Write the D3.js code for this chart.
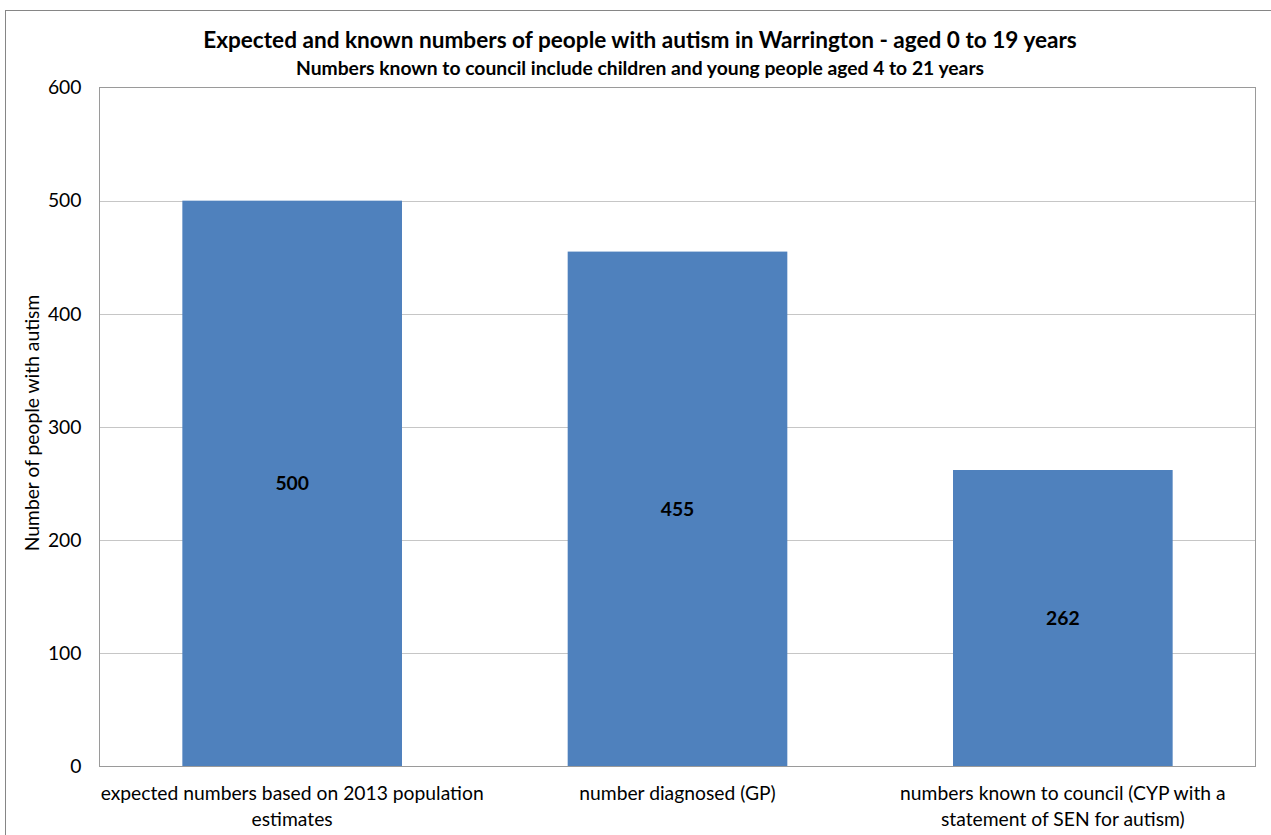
<!DOCTYPE html>
<html>
<head>
<meta charset="utf-8">
<script src="https://cdn.jsdelivr.net/npm/d3@7"></script>
<style>
  html, body { margin: 0; padding: 0; background: #fff; }
  svg { display: block; font-family: Lato, "Open Sans", sans-serif; }
</style>
</head>
<body>
<svg id="chart" width="1271" height="835"></svg>
<script>
// Autism counts in Warrington, ages 0 to 19
const categories = [
  ["expected numbers based on 2013 population", "estimates"],
  ["number diagnosed (GP)"],
  ["numbers known to council (CYP with a", "statement of SEN for autism)"]
];
const values = [500, 455, 262];
const yTicks = [0, 100, 200, 300, 400, 500, 600];

const titleText = "Expected and known numbers of people with autism in Warrington - aged 0 to 19 years";
const subtitleText = "Numbers known to council include children and young people aged 4 to 21 years";
const yAxisTitle = "Number of people with autism";

const svg = d3.select("#chart");
const W = 1271, H = 835;
const plot = { left: 99.5, top: 87.5, right: 1255.5, bottom: 766.5 };
const FS = 19.3;

// outer chart frame
svg.append("rect")
  .attr("x", 5.5).attr("y", 10.5)
  .attr("width", W + 10).attr("height", H + 10)
  .attr("fill", "#fff").attr("stroke", "#868686").attr("stroke-width", 1);

const x = d3.scaleBand()
  .domain(d3.range(values.length))
  .range([plot.left, plot.right])
  .paddingInner(0.43).paddingOuter(0.215);

const y = d3.scaleLinear()
  .domain([0, 600])
  .range([plot.bottom, plot.top]);

// gridlines
svg.append("g").selectAll("line")
  .data(yTicks.filter(t => t > 0 && t < 600))
  .join("line")
  .attr("x1", plot.left).attr("x2", plot.right)
  .attr("y1", d => Math.round(y(d)) + 0.5).attr("y2", d => Math.round(y(d)) + 0.5)
  .attr("stroke", "#c6c6c6").attr("stroke-width", 1);

// bars
svg.append("g").selectAll("rect")
  .data(values)
  .join("rect")
  .attr("x", (d, i) => x(i))
  .attr("width", x.bandwidth())
  .attr("y", d => y(d))
  .attr("height", d => y(0) - y(d))
  .attr("fill", "#4F81BD");

// plot area frame
svg.append("rect")
  .attr("x", plot.left).attr("y", plot.top)
  .attr("width", plot.right - plot.left).attr("height", plot.bottom - plot.top)
  .attr("fill", "none").attr("stroke", "#9a9a9a").attr("stroke-width", 1);

// y axis labels
const yAxis = d3.axisLeft(y).tickValues(yTicks).tickSize(0).tickPadding(18);
const gy = svg.append("g").attr("transform", `translate(${plot.left},0)`).call(yAxis);
gy.select(".domain").remove();
gy.selectAll("text")
  .attr("font-size", FS).attr("fill", "#000")
  .style("font-family", "Lato, 'Open Sans', sans-serif");

// category labels
const xl = svg.append("g");
categories.forEach((lines, i) => {
  const cx = x(i) + x.bandwidth() / 2;
  lines.forEach((line, j) => {
    xl.append("text")
      .attr("x", cx).attr("y", 800 + j * 26)
      .attr("text-anchor", "middle")
      .attr("font-size", FS).attr("fill", "#000")
      .text(line);
  });
});

// value labels
svg.append("g").selectAll("text")
  .data(values)
  .join("text")
  .attr("x", (d, i) => x(i) + x.bandwidth() / 2)
  .attr("y", d => (y(d) + y(0)) / 2)
  .attr("dy", "0.35em")
  .attr("text-anchor", "middle")
  .attr("font-size", FS).attr("font-weight", "bold").attr("fill", "#000")
  .text(d => d);

// y axis title
svg.append("text")
  .attr("transform", `translate(39,${(plot.top + plot.bottom) / 2 - 4}) rotate(-90)`)
  .attr("text-anchor", "middle")
  .attr("font-size", FS).attr("fill", "#000")
  .text(yAxisTitle);

// titles
svg.append("text")
  .attr("x", 640).attr("y", 48)
  .attr("text-anchor", "middle")
  .attr("font-size", 22.6).attr("font-weight", "bold").attr("fill", "#000")
  .text(titleText);
svg.append("text")
  .attr("x", 640).attr("y", 75)
  .attr("text-anchor", "middle")
  .attr("font-size", FS).attr("font-weight", "bold").attr("fill", "#000")
  .text(subtitleText);
</script>
</body>
</html>
